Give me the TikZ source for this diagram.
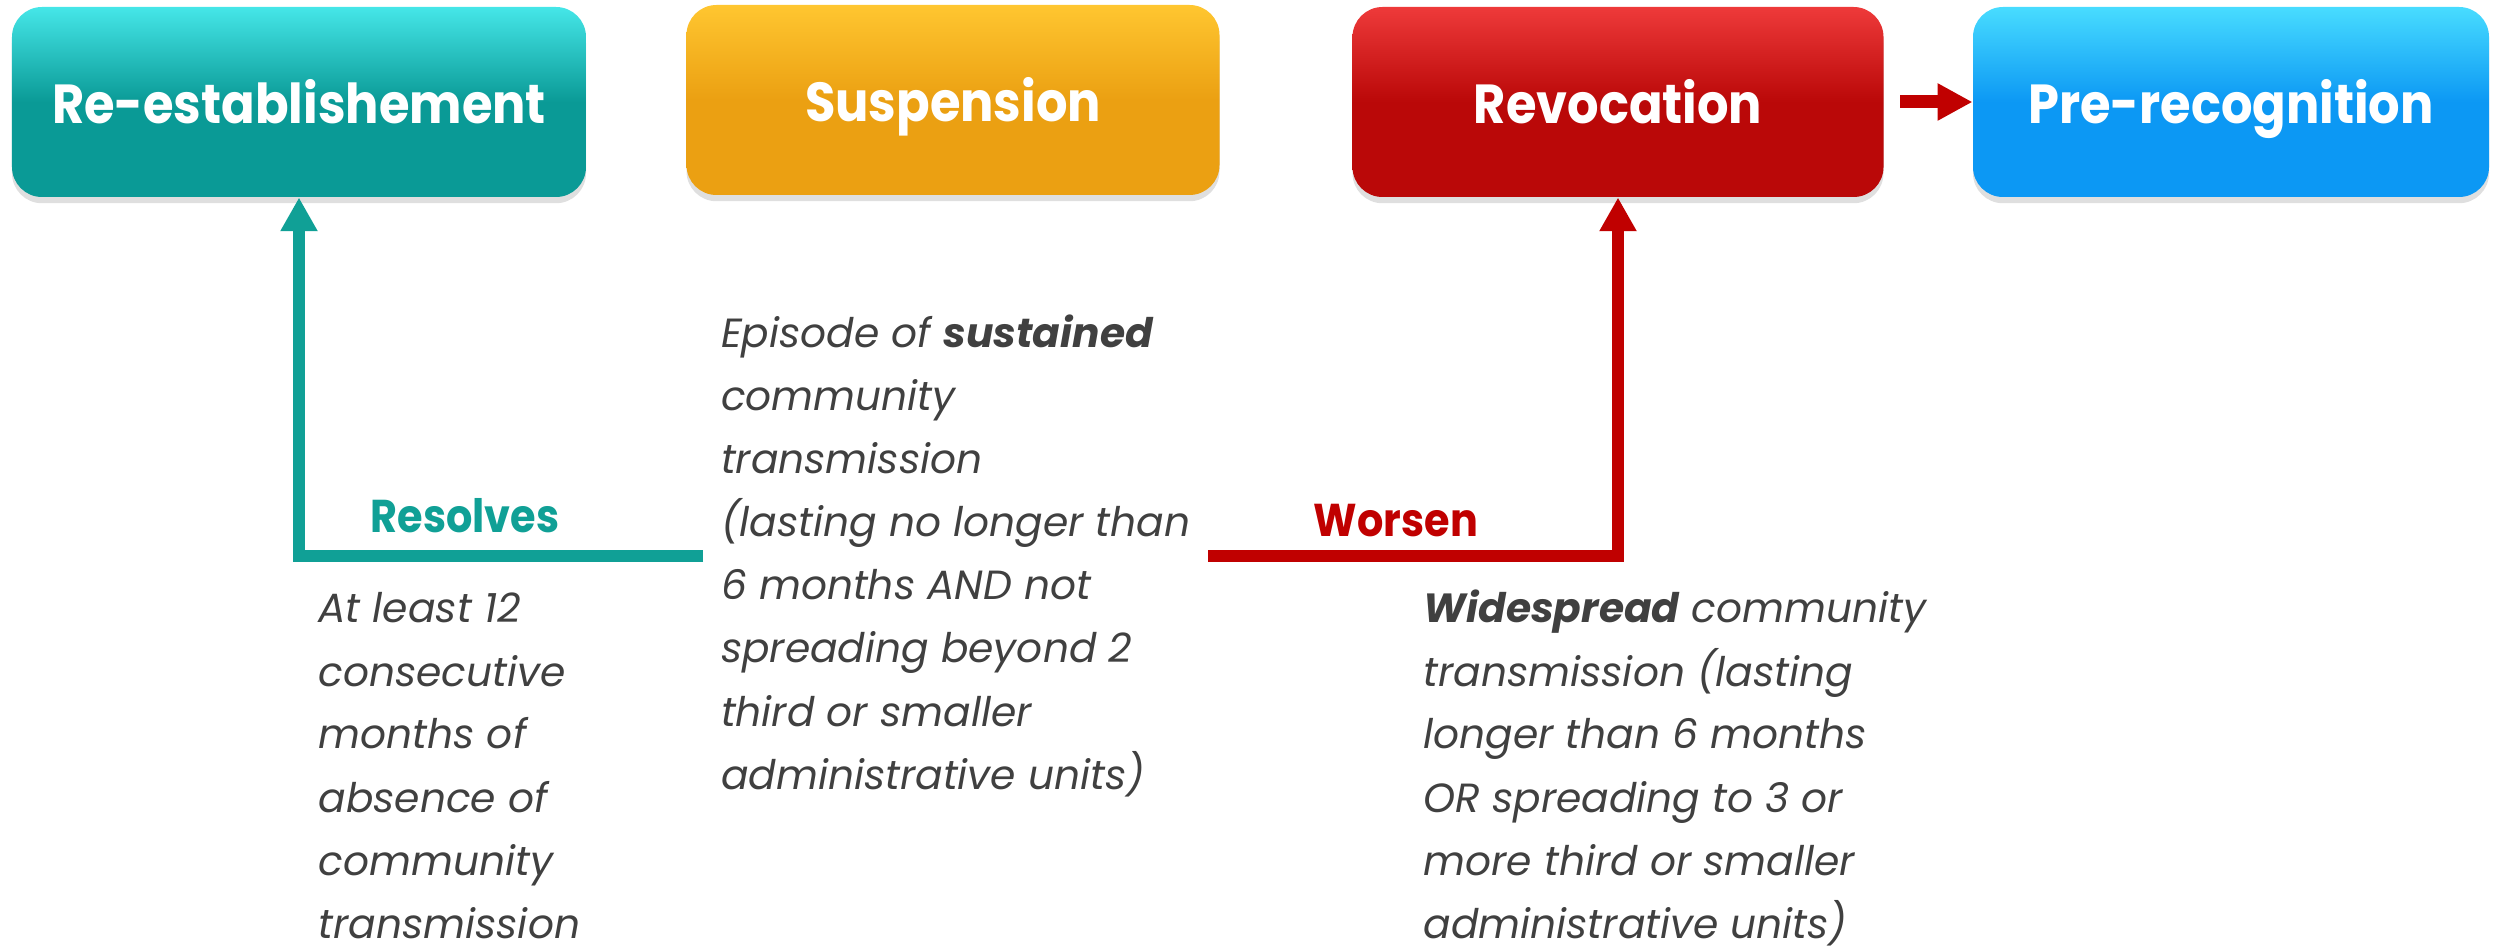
\documentclass[tikz,border=0pt]{standalone}
\usepackage{fontspec}
\setmainfont{Poppins}
\newfontfamily\narrowfont[FakeStretch=0.9]{Poppins}
\usetikzlibrary{arrows.meta,shadows}
\definecolor{tealmain}{HTML}{0A9A96}
\definecolor{tealtop}{HTML}{45E6E8}
\definecolor{orgmain}{HTML}{EBA012}
\definecolor{orgtop}{HTML}{FFC630}
\definecolor{redmain}{HTML}{BA0808}
\definecolor{redtop}{HTML}{EE3A3A}
\definecolor{bluemain}{HTML}{0C98F4}
\definecolor{bluetop}{HTML}{48DCFF}
\definecolor{tealline}{HTML}{10A096}
\definecolor{redline}{HTML}{C00000}
\definecolor{bodygray}{HTML}{404040}
\tikzset{
  stagebox/.style={rounded corners=12pt, minimum height=76pt, text=white,
    font=\narrowfont\fontsize{22}{26}\selectfont\bfseries, inner sep=0pt,
    text height=21.6pt, text depth=4pt,
    drop shadow={opacity=0.25, shadow xshift=0pt, shadow yshift=-2.5pt}},
  tealshade/.style={top color=tealtop, bottom color=tealmain, middle color=tealmain},
  orgshade/.style={top color=orgtop, bottom color=orgmain, middle color=orgmain},
  redshade/.style={top color=redtop, bottom color=redmain, middle color=redmain},
  blueshade/.style={top color=bluetop, bottom color=bluemain, middle color=bluemain},
  bodytext/.style={align=left, text=bodygray, inner ysep=0pt, inner xsep=0pt,
    font=\fontsize{16.3}{25.2}\selectfont\itshape},
  condlabel/.style={font=\narrowfont\fontsize{18.4}{22}\selectfont\bfseries, inner sep=0pt},
  connector/.style={line width=4.5pt, -{Triangle[width=14pt,length=13.5pt]}},
}
\begin{document}
\begin{tikzpicture}[x=0.4pt,y=-0.4pt]
\useasboundingbox (0,0) rectangle (2493,951);
% stage boxes
\node[stagebox, tealshade, minimum width=229.6pt] (reest) at (299,102) {Re-establishement};
\node[stagebox, orgshade, minimum width=213.2pt] (susp) at (953,100) {Suspension};
\node[stagebox, redshade, minimum width=212.4pt] (revo) at (1618,102) {Revocation};
\node[stagebox, blueshade, minimum width=206.4pt] (prerec) at (2231,102) {Pre-recognition};
% middle description (anchor base = baseline of last line)
\node[bodytext, inner xsep=7pt, anchor=base west] (mid) at (703,789)
 {Episode of {\bfseries sustained}\\
  community\\
  transmission\\
  (lasting no longer than\\
  6 months AND not\\
  spreading beyond 2\\
  third or smaller\\
  administrative units)};
\node[bodytext, anchor=base west] (left) at (318,938)
 {At least 12\\
  consecutive\\
  months of\\
  absence of\\
  community\\
  transmission};
\node[bodytext, anchor=base west] (right) at (1423,938)
 {{\bfseries Widespread} community\\
  transmission (lasting\\
  longer than 6 months\\
  OR spreading to 3 or\\
  more third or smaller\\
  administrative units)};
% connectors
\draw[connector, tealline] (mid.west) -| (reest.south);
\draw[connector, redline] (mid.east) -| (revo.south);
\draw[redline, line width=5.2pt, -{Triangle[width=14pt,length=14pt]}] ([xshift=6.5pt]revo.east) -- (prerec.west);
% labels
\node[condlabel, text=tealline, anchor=base] (resolves) at (465,533) {Resolves};
\node[condlabel, text=redline, anchor=base] (worsen) at (1396,536) {Worsen};
\end{tikzpicture}
\end{document}
